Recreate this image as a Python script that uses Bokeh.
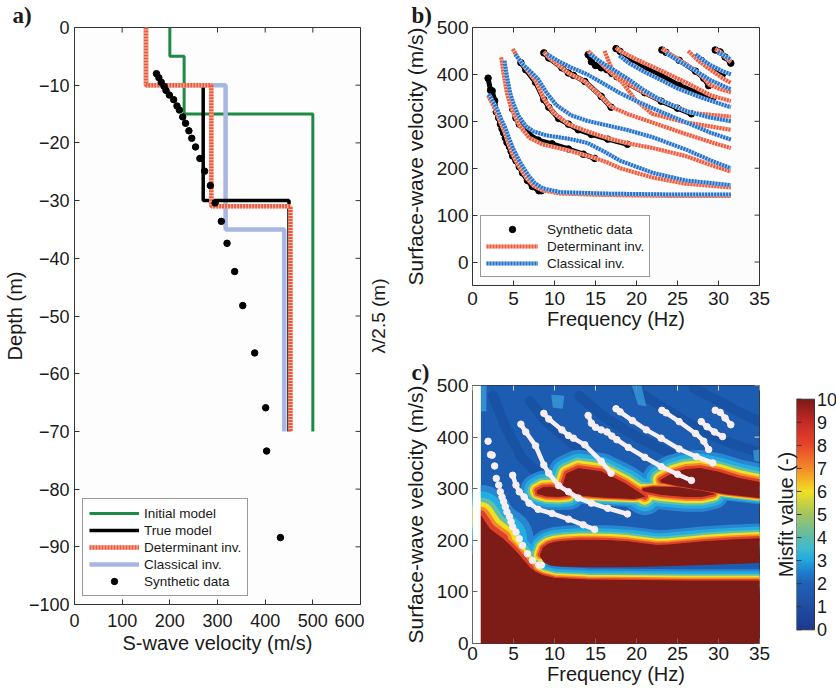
import numpy as np
from bokeh.plotting import figure
from bokeh.models import FixedTicker, Legend, LegendItem, LinearColorMapper, Title
from bokeh.layouts import row, column
from bokeh.embed import file_html
from bokeh.resources import INLINE
from bokeh.core.properties import value

FONT = "Liberation Sans"
SERIF = "Liberation Serif"
INK = "#1a1a1a"
GREEN = "#1f8a45"
RED = "#ef5a3c"
PINK = "#f8c4b6"
LIGHTBLUE = "#a8b6e2"
BLUE = "#2574cc"
PALEBLUE = "#b0cbec"

# ---------------- panel a: velocity profiles ----------------
a_x_ticks = [0, 100, 200, 300, 400, 500, 600]
a_y_ticks = [0, -10, -20, -30, -40, -50, -60, -70, -80, -90, -100]

initial_vs = [200, 200, 230, 230, 500, 500]
initial_z = [0, -5, -5, -15, -15, -70]
true_vs = [150, 150, 270, 270, 450, 450]
true_z = [0, -10, -10, -30, -30, -70]
determinant_vs = [150, 150, 287, 287, 453, 453]
determinant_z = [0, -10, -10, -31, -31, -70]
classical_vs = [150, 150, 317, 317, 440, 440]
classical_z = [0, -10, -10, -35, -35, -70]
synthetic_vs = [172, 177, 182, 188, 192, 199, 208, 215, 220, 227, 233, 240, 246,
                254, 263, 273, 285, 295, 308, 320, 336, 353, 378, 401, 403, 432]
synthetic_z = [-8.0, -8.7, -9.5, -10.2, -10.9, -11.7, -12.5, -13.6, -14.3, -15.5,
               -16.6, -17.9, -19.2, -20.7, -22.7, -24.9, -27.4, -30.4, -33.6,
               -37.4, -42.3, -48.2, -56.4, -65.9, -73.4, -88.4]

# ---------------- panel b: dispersion curves ----------------
f_ticks = [0, 5, 10, 15, 20, 25, 30, 35]
v_ticks = [0, 100, 200, 300, 400, 500]

det_f = [
    [1.9, 2.4, 2.9, 3.4, 3.9, 4.4, 4.9, 5.7, 6.7, 7.5, 8.5, 10.7, 16, 24, 31.5],
    [3.5, 3.8, 4.2, 4.6, 5.0, 5.7, 6.9, 8.5, 11.7, 14.9, 16.5, 18, 22, 26, 31.5],
    [4.9, 5.9, 6.9, 7.7, 8.7, 9.9, 11.7, 13.9, 16.5, 19, 22, 26, 29, 31.5],
    [8.7, 9.3, 10.9, 11.7, 13.7, 15.7, 16.9, 19, 22, 26, 29, 31.5],
    [14.1, 15.3, 16.5, 18.3, 19.9, 21.9, 25.9, 31.5],
    [16.1, 16.6, 17.0, 17.6, 19, 21, 23, 25, 26.7, 29, 31.5],
    [17.5, 18, 20, 23, 26, 29.1, 31.5],
    [23.1, 23.6, 25.2, 27.2, 28.2, 28.9, 30, 31.5],
    [26.3, 27.5, 29, 30.5, 31.5],
    [29.6, 30.2, 30.8, 31.5],
]
det_v = [
    [355, 338, 320, 298, 278, 252, 229, 203, 177, 162, 153, 146, 143, 141, 141],
    [436, 400, 360, 335, 318, 292, 265, 251, 238, 222, 212, 200, 180, 167, 159],
    [454, 426, 404, 386, 348, 318, 294, 279, 264, 253, 243, 226, 207, 193],
    [448, 436, 414, 403, 385, 353, 331, 315, 297, 273, 256, 243],
    [450, 430, 410, 382, 345, 316, 298, 282],
    [450, 428, 412, 396, 380, 361, 344, 330, 318, 314, 310],
    [457, 450, 432, 408, 383, 355, 343],
    [455, 449, 431, 408, 393, 378, 370, 362],
    [450, 430, 410, 392, 382],
    [454, 448, 437, 426],
]
cls_f = [
    [2.0, 2.5, 3.0, 3.5, 4.0, 4.5, 5.0, 5.8, 6.8, 7.6, 8.6, 10.7, 16, 24, 31.5],
    [3.9, 4.2, 4.6, 5.0, 5.6, 6.5, 7.5, 9, 11.7, 14, 16, 18, 22, 26, 31.5],
    [5.2, 6.2, 7.2, 8.0, 9.0, 10.2, 12, 14, 16, 19, 22, 26, 29, 31.5],
    [9.1, 10.5, 12, 14, 16, 18, 20, 23, 26, 29, 31.5],
    [14.3, 15.5, 17, 19, 21, 23, 26, 29, 31.5],
    [17.9, 19, 21, 23, 25, 28, 31.5],
    [23.6, 25, 27, 29, 31.5],
    [27.2, 28, 29, 30.5, 31.5],
    [29.9, 30.5, 31, 31.5],
]
cls_v = [
    [358, 342, 326, 305, 286, 262, 240, 213, 185, 168, 157, 149, 146, 144, 144],
    [429, 395, 360, 338, 312, 290, 278, 270, 263, 254, 236, 216, 190, 174, 164],
    [443, 420, 404, 390, 362, 335, 313, 301, 293, 281, 266, 240, 217, 200],
    [443, 428, 415, 400, 380, 360, 343, 320, 298, 276, 261],
    [443, 428, 412, 390, 365, 345, 322, 308, 300],
    [440, 425, 405, 388, 370, 350, 330],
    [446, 430, 410, 388, 368],
    [443, 432, 420, 407, 400],
    [447, 442, 437, 432],
]
syn_f = [
    [1.9, 2.2, 2.4, 2.7, 2.9, 3.2, 3.4, 3.6, 3.8, 4.0, 4.2, 4.5, 4.7, 4.9, 5.3,
     5.7, 6.1, 6.7, 7.3, 8.1, 8.4],
    [4.9, 5.3, 5.7, 6.3, 6.9, 8.0, 9.7, 11.7, 13.5, 14.9],
    [5.9, 6.5, 7.7, 8.7, 9.3, 10.5, 11.7, 12.9, 14.5, 16.5, 18.9],
    [8.7, 9.3, 10.9, 11.7, 12.3, 13.7, 15.7, 16.9],
    [14.1, 14.5, 15.0, 15.7, 16.4, 17.0, 17.6, 19.0, 21.0, 23.0, 25.0, 26.7],
    [17.5, 18.0, 19.5, 21.2, 23.0, 25.2, 27.3, 29.3],
    [23.1, 23.6, 25.2, 27.2, 28.2, 28.8],
    [27.9, 28.6, 29.5, 30.5],
    [29.6, 30.2, 30.8, 31.5],
]
syn_v = [
    [392, 366, 365, 344, 320, 307, 294, 284, 275, 265, 255, 246, 236, 226, 216,
     203, 190, 174, 161, 152, 152],
    [326, 307, 294, 284, 272, 260, 252, 241, 230, 221],
    [425, 410, 383, 346, 330, 306, 294, 282, 272, 262, 251],
    [446, 435, 414, 403, 398, 385, 353, 330],
    [442, 427, 419, 414, 410, 402, 395, 380, 361, 343, 328, 316],
    [455, 449, 432, 414, 398, 377, 362, 350],
    [452, 447, 430, 407, 392, 376],
    [430, 420, 410, 401],
    [452, 448, 437, 424],
]

# ---------------- panel c: misfit map (regions) ----------------
heat_f = [1.0, 35.0]
heat_v = [0, 500]
bot_top_f = [1.0, 1.5, 2.1, 2.9, 3.7, 4.7, 5.7, 6.5, 7.0, 7.6, 8.5, 10, 14, 20, 26, 35]
bot_top_v = [248, 236, 222, 212, 203, 188, 171, 156, 147, 139, 132, 126, 123, 122, 121, 121]
bot_low_f = [1.0, 35]
bot_low_v = [0, 0]
l1_top_f = [8.3, 8.6, 9.2, 10, 11, 13, 15, 17, 19, 21, 22.5, 24, 26, 28, 30, 32, 35]
l1_top_v = [172, 185, 192, 196, 198, 200, 200, 199, 197, 193, 190, 191, 194, 197, 199, 201, 203]
l1_low_f = [8.3, 8.8, 9.5, 11, 14, 18, 22, 26, 30, 35]
l1_low_v = [168, 157, 152, 150, 149, 149, 150, 152, 154, 157]
l2_top_f = [11.1, 11.5, 12.9, 15.7, 18.6, 21.0]
l2_top_v = [310, 329, 339, 333, 310, 285]
l2_low_f = [11.1, 11.7, 13.5, 15.7, 19.7, 21.0]
l2_low_v = [305, 294, 287, 284, 281, 285]
l3_top_f = [7.9, 8.6, 9.5, 10.5, 11.7]
l3_top_v = [296, 302, 303, 300, 292]
l3_low_f = [7.9, 9, 10.5, 11.7]
l3_low_v = [291, 286, 285, 287]
l4_top_f = [20.8, 22, 25, 28, 29.4]
l4_top_v = [300, 303, 302, 295, 290]
l4_low_f = [20.8, 23, 26, 28, 29.4]
l4_low_v = [296, 289, 285, 285, 290]
l5_top_f = [23, 24.5, 26, 27.8, 30, 32.5, 35]
l5_top_v = [317, 330, 337, 339, 332, 320, 312]
l5_low_f = [23, 25, 28, 31, 35]
l5_low_v = [313, 306, 298, 290, 283]
glow_f = [[1.0, 1.7, 1.7, 1.0], [9.6, 11.2, 11.0, 9.8], [19.4, 20.6, 21.2, 20.2], [34.2, 35, 35, 34.4]]
glow_v = [[500, 500, 450, 450], [482, 480, 455, 457], [500, 500, 460, 462], [374, 376, 352, 354]]
streak_f = [[2.5, 4.0, 6.0, 8.0], [7, 9, 12, 15, 18], [13, 16, 19, 22, 25],
            [20, 23, 26, 29, 32, 35], [27, 30, 33, 35]]
streak_v = [[480, 420, 360, 330], [470, 430, 390, 360, 340], [480, 440, 410, 385, 360],
            [490, 460, 430, 405, 385, 370], [495, 470, 445, 430]]

cb_ticks = [0, 1, 2, 3, 4, 5, 6, 7, 8, 9, 10]
cb_stops = [0, 1, 2, 2.5, 3, 3.5, 4, 5, 6, 6.5, 7, 8, 9, 10]
cb_colors = ["#1d3a8f", "#1f4ea3", "#2062b8", "#1f7fcc", "#20a9e0", "#3dbad0", "#5cbcaa",
             "#a3c55f", "#f1e021", "#f6b325", "#f28a29", "#e8462b", "#c42a25", "#7b1a17"]

BG_BLUE = "#1c5db1"
DARK = "#7d1b17"
halo_layers = [("#2a86d0", 34), ("#22aee2", 27), ("#62c0a8", 20), ("#f1e021", 15),
               ("#f48c28", 10), ("#e0402a", 6)]


def minus(ticks):
    return {t: "\u2212%g" % -t for t in ticks if t < 0}


def box_axes(p, x_ticks, y_ticks, size, xs, ys, xr, yr, fw, fh, tick_color="#333",
             mirror_color="#333"):
    p.xgrid.visible = False
    p.ygrid.visible = False
    p.outline_line_color = "#333"
    p.below[0].ticker = FixedTicker(ticks=x_ticks)
    p.left[0].ticker = FixedTicker(ticks=y_ticks)
    for ax in (p.below[0], p.left[0]):
        ax.major_label_text_font = FONT
        ax.major_label_text_font_size = size
        ax.major_label_text_color = INK
        ax.major_tick_in = 5
        ax.major_tick_out = 0
        ax.minor_tick_in = 0
        ax.minor_tick_out = 0
        ax.axis_line_color = None
        ax.major_tick_line_color = tick_color
        ax.axis_label_text_font = FONT
        ax.axis_label_text_font_style = "normal"
        ax.axis_label_text_color = INK
    p.below[0].major_label_standoff = xs
    p.left[0].major_label_standoff = ys
    p.left[0].major_label_overrides = minus(y_ticks)
    # mirrored inward ticks on the top and right edges of the box
    dx = (xr[1] - xr[0]) / fw * 5
    dy = (yr[1] - yr[0]) / fh * 5
    p.segment(x0=x_ticks, y0=[yr[1]] * len(x_ticks), x1=x_ticks, y1=[yr[1] - dy] * len(x_ticks),
              line_color=mirror_color, line_width=1)
    p.segment(x0=[xr[1]] * len(y_ticks), y0=y_ticks, x1=[xr[1] - dx] * len(y_ticks), y1=y_ticks,
              line_color=mirror_color, line_width=1)


def letter(p, s, off, standoff=0):
    p.add_layout(Title(text=s, align="left", offset=off, standoff=standoff, text_font=SERIF,
                       text_font_size="23px", text_font_style="bold", text_color=INK), "above")


def title_only(p, label, size, standoff=0):
    # an axis that carries nothing but its title
    ax = p.left[0]
    ax.ticker = FixedTicker(ticks=[])
    ax.axis_line_color = None
    ax.major_tick_out = 0
    ax.minor_tick_out = 0
    ax.axis_label = label
    ax.axis_label_text_font = FONT
    ax.axis_label_text_font_size = size
    ax.axis_label_text_font_style = "normal"
    ax.axis_label_text_color = INK
    ax.axis_label_standoff = standoff
    p.xgrid.visible = False
    p.ygrid.visible = False
    p.outline_line_color = None


# ---------- figure a ----------
a_xr, a_yr = (0, 600), (-100, 0)
pa = figure(width=364, height=692, x_range=a_xr, y_range=a_yr,
            output_backend="svg", toolbar_location=None,
            min_border_left=69, min_border_right=4, min_border_top=27, min_border_bottom=88)
pa.background_fill_color = "#fdfdfd"
box_axes(pa, a_x_ticks, a_y_ticks, "18px", 9, 5, a_xr, a_yr, 291, 577)
pa.below[0].axis_label = "S-wave velocity (m/s)"
pa.below[0].axis_label_text_font_size = "20px"
pa.below[0].axis_label_standoff = 2
pa.left[0].axis_label = "Depth (m)"
pa.left[0].axis_label_text_font_size = "20px"
pa.left[0].axis_label_standoff = 0
letter(pa, "a)", -62)

r_init = pa.line(initial_vs, initial_z, line_color=GREEN, line_width=3)
r_cls = pa.line(classical_vs, classical_z, line_color=LIGHTBLUE, line_width=4.5)
r_true = pa.line(true_vs, true_z, line_color="black", line_width=3.5)
r_det_u = pa.line(determinant_vs, determinant_z, line_color=PINK, line_width=4.5)
r_det = pa.line(determinant_vs, determinant_z, line_color=RED, line_width=4.5, line_dash="2 1")
r_syn = pa.scatter(synthetic_vs, synthetic_z, size=6.5, color="black")

leg_a = Legend(items=[
    LegendItem(label="Initial model", renderers=[r_init]),
    LegendItem(label="True model", renderers=[r_true]),
    LegendItem(label="Determinant inv.", renderers=[r_det_u, r_det]),
    LegendItem(label="Classical inv.", renderers=[r_cls]),
    LegendItem(label="Synthetic data", renderers=[r_syn]),
], location="bottom_left", margin=8, padding=6, spacing=1, glyph_width=50, glyph_height=16,
    label_height=16, label_standoff=5, label_text_font=FONT, label_text_font_size="13.5px",
    label_text_color=INK, border_line_color="#333", background_fill_color="white",
    background_fill_alpha=1)
pa.add_layout(leg_a)

# right-hand λ/2.5 title of panel a, in its own narrow strip (same top/bottom borders
# as panel a so the row keeps both frames aligned)
plam = figure(width=36, height=692, x_range=(0, 1), y_range=(0, 1),
              output_backend="svg", toolbar_location=None, x_axis_location=None,
              min_border_left=21, min_border_right=0, min_border_top=27, min_border_bottom=88)
title_only(plam, "\u03bb/2.5 (m)", "19px")

# ---------- figure b ----------
b_xr, b_yr = (0, 35), (-50, 500)
pb = figure(width=436, height=345, x_range=b_xr, y_range=b_yr,
            output_backend="svg", toolbar_location=None,
            min_border_left=68, min_border_right=77, min_border_top=27, min_border_bottom=60)
pb.background_fill_color = "#fcfcfd"
box_axes(pb, f_ticks, v_ticks, "19px", 6, 4, b_xr, b_yr, 291, 258)
pb.below[0].axis_label = "Frequency (Hz)"
pb.below[0].axis_label_text_font_size = "20px"
pb.below[0].axis_label_standoff = 0
pb.left[0].axis_label = "Surface-wave velocity (m/s)"
pb.left[0].axis_label_text_font_size = "21px"
pb.left[0].axis_label_standoff = 7
letter(pb, "b)", -61)

for f, v in zip(syn_f, syn_v):
    pb.line(f, v, line_color="black", line_width=5)
    r_syn_b = pb.scatter(f, v, size=6.5, color="black")
for f, v in zip(det_f, det_v):
    r_det_bu = pb.line(f, v, line_color=PINK, line_width=4)
    r_det_b = pb.line(f, v, line_color=RED, line_width=4, line_dash="2 1")
for f, v in zip(cls_f, cls_v):
    r_cls_bu = pb.line(f, v, line_color=PALEBLUE, line_width=4)
    r_cls_b = pb.line(f, v, line_color=BLUE, line_width=4, line_dash="2 1")

leg_b = Legend(items=[
    LegendItem(label="Synthetic data", renderers=[r_syn_b]),
    LegendItem(label="Determinant inv.", renderers=[r_det_bu, r_det_b]),
    LegendItem(label="Classical inv.", renderers=[r_cls_bu, r_cls_b]),
], location="bottom_left", margin=8, padding=5, spacing=1, glyph_width=52, glyph_height=16,
    label_height=16, label_standoff=9, label_text_font=FONT, label_text_font_size="13.5px",
    label_text_color=INK, border_line_color="#333", background_fill_color="white",
    background_fill_alpha=1)
pb.add_layout(leg_b)

# ---------- figure c ----------
c_xr, c_yr = (0, 35), (0, 500)
pc = figure(width=370, height=347, x_range=c_xr, y_range=c_yr,
            output_backend="svg", toolbar_location=None,
            min_border_left=68, min_border_right=11, min_border_top=40, min_border_bottom=49)
pc.background_fill_color = "white"
box_axes(pc, f_ticks, v_ticks, "19px", 3, 4, c_xr, c_yr, 291, 258, tick_color="#666",
         mirror_color="#e8d4d4")
pc.below[0].axis_label = "Frequency (Hz)"
pc.below[0].axis_label_text_font_size = "20px"
pc.below[0].axis_label_standoff = 0
pc.left[0].axis_label = "Surface-wave velocity (m/s)"
pc.left[0].axis_label_text_font_size = "21px"
pc.left[0].axis_label_standoff = 7
letter(pc, "c)", -61, standoff=1)

pc.quad(left=[heat_f[0]], right=[heat_f[1]], bottom=[heat_v[0]], top=[heat_v[1]],
        fill_color=BG_BLUE, line_color=None, level="underlay")
for sf, sv in zip(streak_f, streak_v):
    pc.line(sf, sv, line_color="#123f8c", line_alpha=0.35, line_width=10, line_cap="round")
for gf, gv in zip(glow_f, glow_v):
    pc.patch(gf, gv, fill_color="#3a9ad8", fill_alpha=0.8, line_color=None)

halo_edges = [
    (bot_top_f[:5], bot_top_v[:5], 1.8),
    (bot_top_f[:9], bot_top_v[:9], 1.2),
    (bot_top_f[8:], bot_top_v[8:], 0.7),
    (l1_top_f, l1_top_v, 0.9),
    (l2_top_f, l2_top_v, 1.1),
    (l2_low_f, l2_low_v, 0.5),
    (l3_top_f, l3_top_v, 1.0),
    (l3_low_f, l3_low_v, 0.8),
    (l4_top_f, l4_top_v, 0.5),
    (l4_low_f, l4_low_v, 0.9),
    (l5_top_f, l5_top_v, 1.1),
    (l5_low_f, l5_low_v, 0.4),
]
for color, width in halo_layers:
    for ef, ev, k in halo_edges:
        pc.line(ef, ev, line_color=color, line_width=width * k, line_cap="round",
                line_join="round")

cores = [(bot_top_f, bot_top_v, bot_low_f, bot_low_v), (l1_top_f, l1_top_v, l1_low_f, l1_low_v),
         (l2_top_f, l2_top_v, l2_low_f, l2_low_v), (l3_top_f, l3_top_v, l3_low_f, l3_low_v),
         (l4_top_f, l4_top_v, l4_low_f, l4_low_v), (l5_top_f, l5_top_v, l5_low_f, l5_low_v)]
for tf, tv, lf, lv in cores:
    pc.patch(tf + lf[::-1], tv + lv[::-1], fill_color=DARK, line_color=DARK, line_width=1)

# white strip left of the map
pc.quad(left=[0], right=[heat_f[0]], bottom=[heat_v[0]], top=[heat_v[1]],
        fill_color="white", line_color=None)

for i, (f, v) in enumerate(zip(syn_f, syn_v)):
    if i > 0:
        pc.line(f, v, line_color="#f7eef3", line_width=4.5)
    pc.scatter(f, v, size=6.5, color="#f7eef3")

# ---------- colour bar ----------
stops = np.array(cb_stops, dtype=float)
rgb = np.array([[int(c[i:i + 2], 16) for i in (1, 3, 5)] for c in cb_colors], dtype=float)
grid = np.linspace(0, 10, 256)
palette = ["#%02x%02x%02x" % tuple(int(round(np.interp(g, stops, rgb[:, k]))) for k in range(3))
           for g in grid]
mapper = LinearColorMapper(palette=palette, low=0, high=10)

pad = 15 / 25.2
cb_xr = (0, 40 / 18)
pcb = figure(width=66, height=347, x_range=cb_xr, y_range=(-pad, 10 + pad),
             output_backend="svg", toolbar_location=None, x_axis_location=None,
             min_border_left=26, min_border_right=0, min_border_top=28, min_border_bottom=37)
title_only(pcb, "Misfit value (-)", "20px")
pcb.image(image=[grid.reshape(-1, 1)], x=0, y=0, dw=1, dh=10, color_mapper=mapper)
pcb.quad(left=[0], right=[1], bottom=[cb_ticks[0]], top=[cb_ticks[-1]], fill_color=None,
         line_color="#333")
pcb.segment(x0=[0] * len(cb_ticks), y0=cb_ticks, x1=[5 / 18] * len(cb_ticks), y1=cb_ticks,
            line_color="#333")
pcb.text(x=[1 + 2.5 / 18] * len(cb_ticks), y=cb_ticks, text=[str(t) for t in cb_ticks],
         text_font=value(FONT), text_font_size="18px", text_align="left",
         text_baseline="middle", text_color=INK)

layout = row(pa, plam, column(pb, row(pc, pcb)))
open("out.html", "w").write(file_html(layout, INLINE, "Dispersion inversion"))
